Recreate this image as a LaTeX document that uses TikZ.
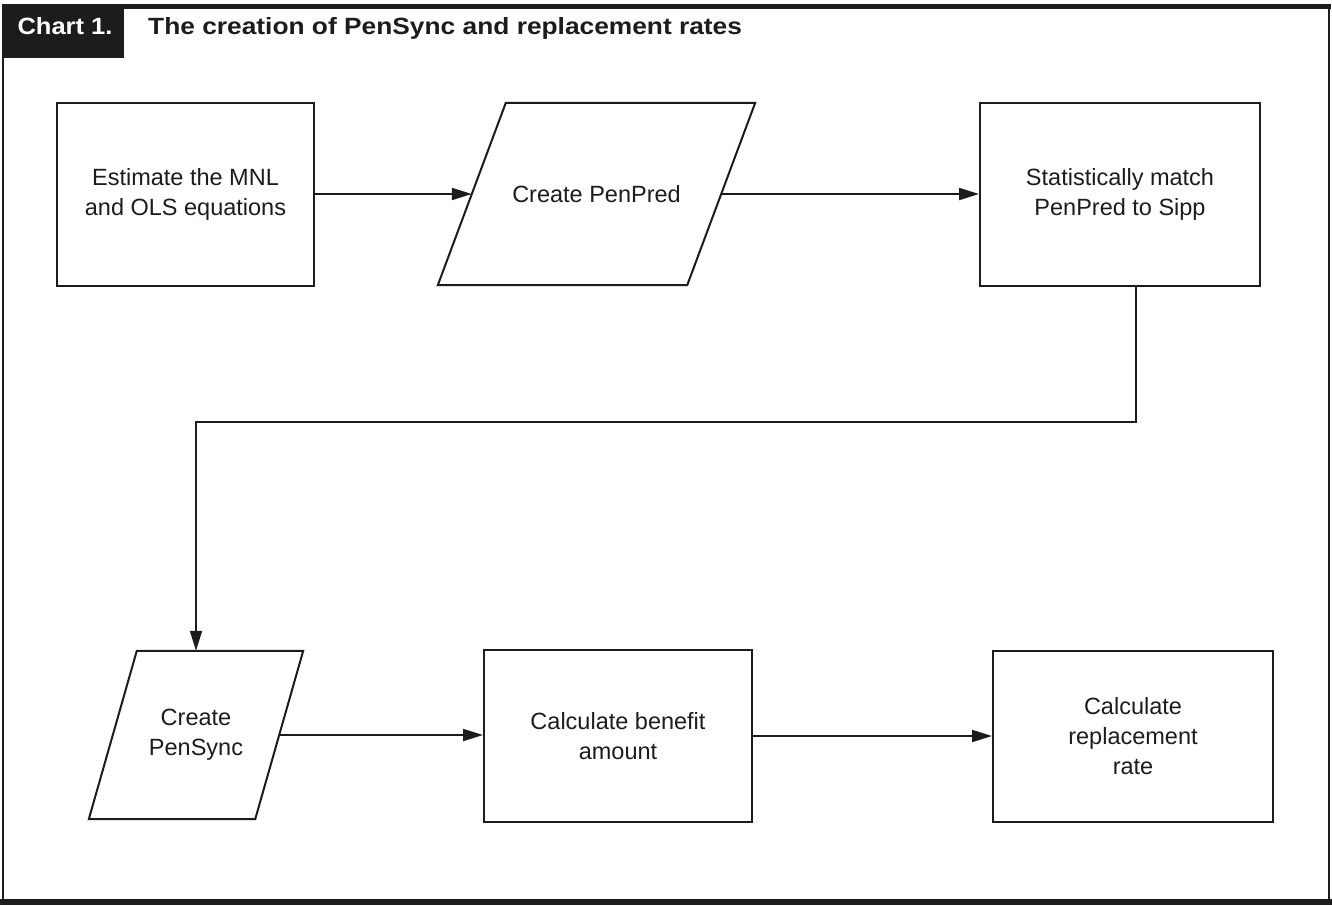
\documentclass[tikz,border=0pt]{standalone}
\usepackage{graphicx}
\usepackage{fontspec}
\setmainfont{Liberation Sans}
\usetikzlibrary{arrows.meta,calc}
\definecolor{ink}{RGB}{30,27,28}
\begin{document}
\begin{tikzpicture}[x=1pt,y=-1pt,
  txt/.style={align=center, font=\fontsize{23.5}{30}\selectfont, inner sep=0pt, text=ink},
  box/.style={txt, draw=ink, line width=2pt},
  outl/.style={draw=ink, line width=2pt, line join=miter},
  conn/.style={draw=ink, line width=2pt, -{Triangle[length=20pt,width=12pt]}},
  frame/.style={draw=ink, line width=2pt},
  headf/.style={font=\bfseries\fontsize{23.5}{23.5}\selectfont, inner sep=0pt}
]
\useasboundingbox (0,0) rectangle (1332,905);

% frame
\fill[ink] (2,4) rectangle (1331,9);
\fill[ink] (0,899) rectangle (1332,905);
\draw[frame] (3,4) -- (3,900);
\draw[frame] (1329,4) -- (1329,900);
\fill[ink] (2,4) rectangle (124,58);
\node[headf, anchor=base, text=white] (lab) at (65,34) {\scalebox{1.085}[1]{Chart 1.}};
\node[headf, anchor=base west, text=ink] (title) at (148,34) {\scalebox{1.12}[1]{The creation of PenSync and replacement rates}};

% row 1
\node[box, minimum width=257pt, minimum height=183pt] (b1) at (185.5,194) {Estimate the MNL\\and OLS equations};
\node[txt, minimum width=249pt, minimum height=182pt] (p2) at (596.5,194) {Create PenPred};
\draw[outl] ($(p2.north west)+(34,0)$) -- ($(p2.north east)+(34,0)$) -- ($(p2.south east)+(-34,0)$) -- ($(p2.south west)+(-34,0)$) -- cycle;
\node[box, minimum width=280pt, minimum height=183pt] (b3) at (1120,194) {Statistically match\\PenPred to Sipp};

% row 2
\node[txt, minimum width=166pt, minimum height=168pt] (p4) at (196,735) {Create\\PenSync};
\draw[outl] ($(p4.north west)+(24,0)$) -- ($(p4.north east)+(24,0)$) -- ($(p4.south east)+(-24,0)$) -- ($(p4.south west)+(-24,0)$) -- cycle;
\node[box, minimum width=268pt, minimum height=172pt] (b5) at (618,736) {Calculate benefit\\amount};
\node[box, minimum width=280pt, minimum height=171pt] (b6) at (1133,736.5) {Calculate\\replacement\\rate};

% connectors
\draw[conn] (b1.east) -- (b1.east -| p2.west);
\draw[conn] (p2.east) -- (p2.east -| b3.west);
\draw[conn] ([xshift=16pt]b3.south) -- ++(0,135) -| (p4.north);
\draw[conn] (p4.east) -- (p4.east -| b5.west);
\draw[conn] (b5.east) -- (b5.east -| b6.west);
\end{tikzpicture}
\end{document}
